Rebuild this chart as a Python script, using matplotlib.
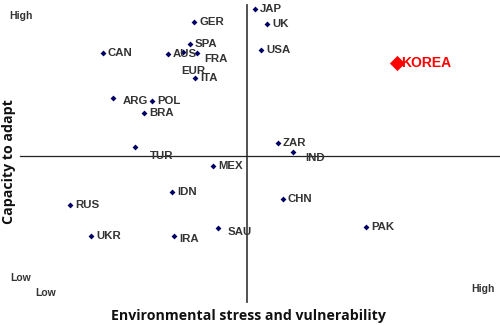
import matplotlib
matplotlib.use("Agg")
import matplotlib.pyplot as plt

# Data (arbitrary scores; origin at the axes crossing)
countries = ["JAP", "UK", "USA", "GER", "SPA", "CAN", "AUS", "EUR", "FRA", "ITA",
             "ARG", "POL", "BRA", "TUR", "MEX", "IDN", "RUS", "UKR", "IRA", "SAU",
             "ZAR", "IND", "CHN", "PAK"]
stress = [0.8, 2.0, 1.4, -5.3, -5.7, -14.4, -7.9, -6.4, -5.0, -5.2,
          -13.4, -9.5, -10.3, -11.2, -3.4, -7.5, -17.7, -15.6, -7.3, -2.9,
          3.1, 4.6, 3.6, 11.9]
capacity = [14.7, 13.2, 10.6, 13.4, 11.2, 10.3, 10.2, 10.4, 10.3, 7.8,
            5.8, 5.5, 4.3, 0.9, -1.0, -3.6, -4.9, -8.0, -8.0, -7.2,
            1.3, 0.4, -4.3, -7.1]
korea_name = "KOREA"
korea_stress = 15.0
korea_capacity = 9.3

# label offsets in pixels (dx, dy down positive); default to the right
default_off = (5, 0)
label_off = {"TUR": (15, 9), "IND": (12, 6), "EUR": (10, 19), "FRA": (7, 6),
             "IRA": (5, 3), "SAU": (10, 4), "ARG": (10, 3), "GER": (6, 0),
             "UK": (5, 0), "JAP": (5, 0)}

W, H, DPI = 500, 326, 100
fig = plt.figure(figsize=(W / DPI, H / DPI), dpi=DPI)
ax = fig.add_axes([0, 0, 1, 1])
ax.set_xlim(-24.7, 25.3)
ax.set_ylim(-17.0, 15.6)
ax.axis("off")

ax.plot([0, 0], [15.1, -14.6], color="#444444", lw=1.3, zorder=1)
ax.plot([-22.7, 25.3], [0, 0], color="#222222", lw=0.9, zorder=1)

lab_font = dict(family=["Liberation Sans", "DejaVu Sans"], fontsize=8.2,
                fontweight="bold", color="#333333")

ax.scatter(stress, capacity, marker="D", s=9, color="#000066", zorder=3, linewidths=0)
for n, x, y in zip(countries, stress, capacity):
    dx, dy = label_off.get(n, default_off)
    ha = "center" if n == "EUR" else "left"
    ax.annotate(n, (x, y), xytext=(dx * 0.72, -dy * 0.72), textcoords="offset points",
                ha=ha, va="center", zorder=4, **lab_font)

ax.scatter([korea_stress], [korea_capacity], marker="D", s=60, color="#ff0000",
           zorder=3, linewidths=0)
ax.annotate(korea_name, (korea_stress, korea_capacity), xytext=(4 * 0.72, 0),
            textcoords="offset points", ha="left", va="center",
            family=["Liberation Sans", "DejaVu Sans"], fontsize=10,
            fontweight="bold", color="#ff0000")

def ftext(px, py, s, **kw):
    fig.text(px / W, 1 - py / H, s, **kw)

small = dict(family=["Liberation Sans", "DejaVu Sans"], fontsize=7.5,
             fontweight="bold", color="#333333", va="center")
ftext(9, 16, "High", ha="left", **small)
ftext(10, 278, "Low", ha="left", **small)
ftext(35, 293, "Low", ha="left", **small)
ftext(495, 289, "High", ha="right", **small)

title_font = dict(family=["Open Sans", "DejaVu Sans"], fontsize=10.2,
                  fontweight="bold", color="#111111")
ftext(248, 316, "Environmental stress and vulnerability", ha="center",
      va="center", **title_font)
ftext(9, 162, "Capacity to adapt", ha="center", va="center", rotation=90,
      **title_font)

fig.savefig("out.png", dpi=DPI)
